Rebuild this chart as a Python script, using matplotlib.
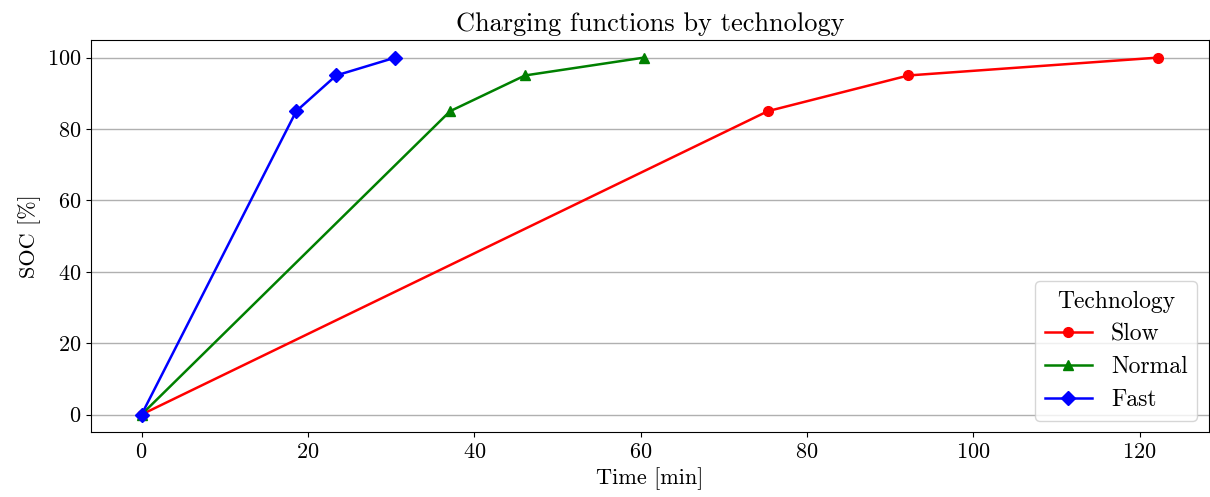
import numpy as np
import matplotlib
matplotlib.use("Agg")
import matplotlib.pyplot as plt

plt.rcParams['font.family'] = 'cmr10'
plt.rcParams['mathtext.fontset'] = 'cm'
plt.rcParams['axes.formatter.use_mathtext'] = True
plt.rcParams['axes.unicode_minus'] = False

# charging curves (time in minutes, state of charge in %)
soc = [0, 85, 95, 100]
slow_t = [0, 75.3, 92.2, 122.2]
normal_t = [0, 37.1, 46.1, 60.4]
fast_t = [0, 18.6, 23.4, 30.5]

fig, ax = plt.subplots(figsize=(12.1, 4.97), dpi=100)

ax.plot(slow_t, soc, color='red', marker='o', markersize=7, linewidth=1.8, label='Slow')
ax.plot(normal_t, soc, color='green', marker='^', markersize=7, linewidth=1.8, label='Normal')
ax.plot(fast_t, soc, color='blue', marker='D', markersize=7, linewidth=1.8, label='Fast')

ax.set_title('Charging functions by technology', fontsize=19)
ax.set_xlabel('Time [min]', fontsize=16)
ax.set_ylabel('SOC [%]', fontsize=16)
ax.tick_params(labelsize=16)
ax.set_yticks([0, 20, 40, 60, 80, 100])
ax.set_xticks([0, 20, 40, 60, 80, 100, 120])
ax.grid(axis='y', color='#b0b0b0', linewidth=1)
ax.set_axisbelow(True)

leg = ax.legend(title='Technology', loc='lower right', fontsize=17, title_fontsize=17,
                fancybox=True, labelspacing=0.45)

fig.subplots_adjust(left=0.075, right=0.999, top=0.92, bottom=0.13)
fig.savefig('out.png')
